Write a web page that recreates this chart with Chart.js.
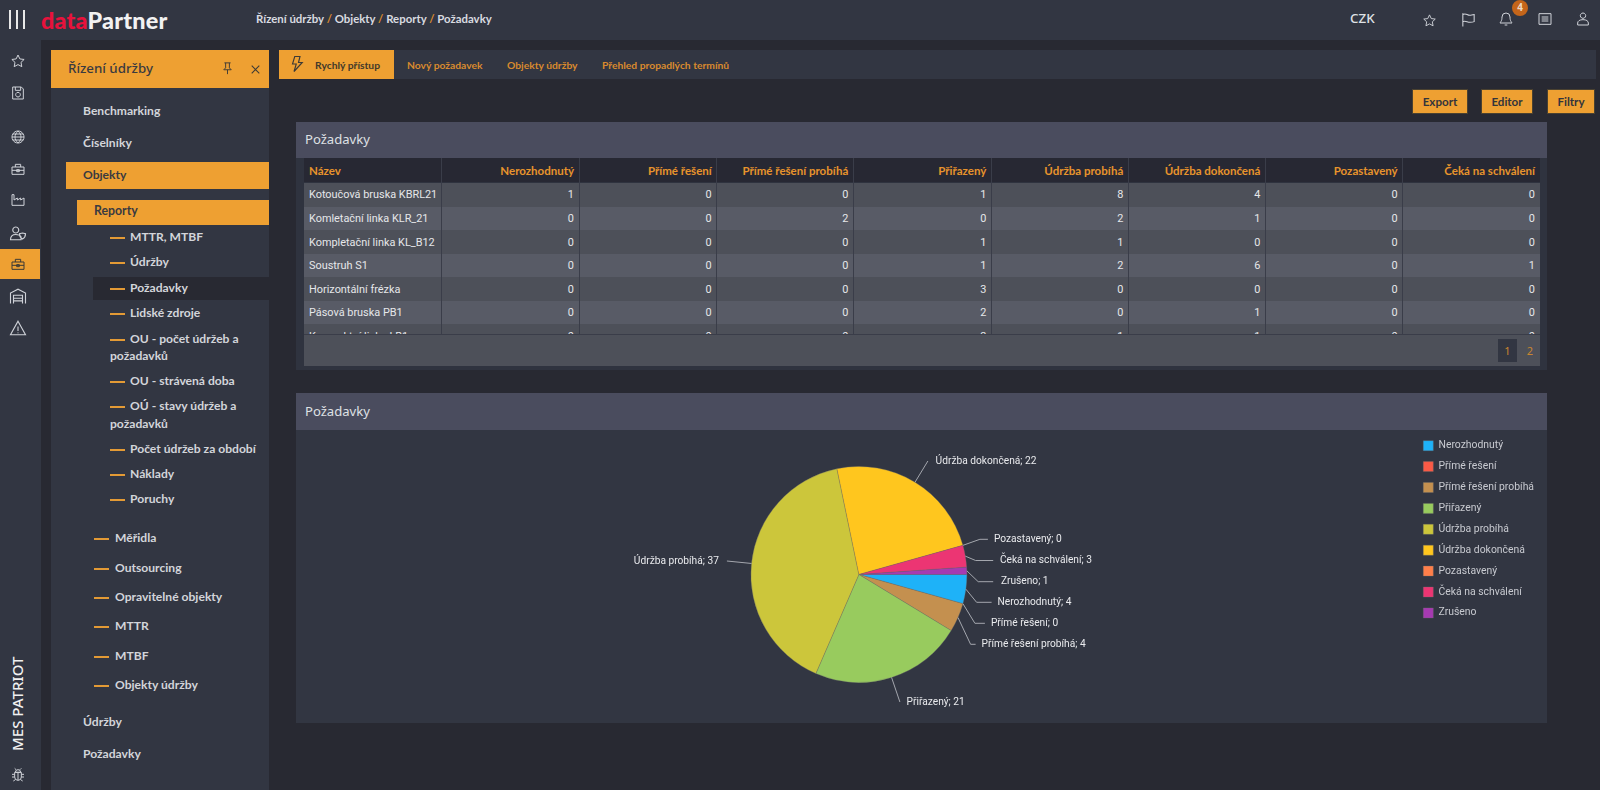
<!DOCTYPE html>
<html lang="cs"><head><meta charset="utf-8"><title>Požadavky</title>
<script src="https://cdn.jsdelivr.net/npm/chart.js@4"></script>
<style>
html,body{margin:0;padding:0;width:1600px;height:790px;overflow:hidden;background:#282932;font-family:"Noto Sans",sans-serif;color:#d5d7dc}
.a{position:absolute}
svg.a{z-index:5}
.t{position:absolute;white-space:nowrap;transform:translateY(-50%);line-height:1}
.side{font-family:Lato,sans-serif;font-size:12.1px;font-weight:700;color:#d3d5da;margin-top:-1px}
.dash{position:absolute;width:15px;height:2px;background:#e39a35}
.or{background:#eea032}
.btn{position:absolute;top:89px;height:25px;background:#eea032;border:1px solid #4a4130;box-sizing:border-box;color:#33343c;font:700 11.6px Lato,sans-serif;text-align:center;line-height:23px}
.tab{position:absolute;top:65px;transform:translateY(-50%);font:700 10.3px Lato,sans-serif;color:#d98a2e;white-space:nowrap}
.ph{position:absolute;left:296px;width:1251px;background:#4a4c5e}
.ph span{position:absolute;left:9px;top:50%;transform:translateY(-50%);font-size:13.1px;color:#dfe0e4;margin-top:-1px}
#grid{position:absolute;left:304px;top:158px;width:1236px;height:176px;overflow:hidden;font:10.9px Roboto,sans-serif}
.cell{position:absolute;box-sizing:border-box;padding:0 5px;white-space:nowrap;display:flex;align-items:center;color:#e6e7ea}
.hd{color:#e8942c;font:700 11.5px Lato,sans-serif;background:#272833}
.num{justify-content:flex-end}
.vline{position:absolute;top:158px;width:1px;height:176px;background:#3a3d49}
</style></head><body>
<div class="a" style="left:0;top:0;width:1600px;height:40px;background:#323642"></div>
<div class="a" style="left:0;top:0;width:41px;height:790px;background:#323642"></div>
<div class="a" style="left:51px;top:50px;width:218px;height:740px;background:#323642"></div>
<div class="a or" style="left:0;top:249px;width:40px;height:30px"></div>
<div id="icons"></div>
<div class="t" style="left:41px;top:20px;font:900 23.4px Lato,sans-serif;letter-spacing:.2px;transform:translateY(-50%)"><span style="color:#e8123c">data</span><span style="color:#f2f2f2">Partner</span></div>
<div class="t" style="left:256px;top:18px;font:700 11.4px Lato,sans-serif;color:#d9dbe0">Řízení údržby <span style="color:#d98a2e">/</span> Objekty <span style="color:#d98a2e">/</span> Reporty <span style="color:#d98a2e">/</span> Požadavky</div>
<div class="t" style="left:1350px;top:19px;font-size:13.4px;font-weight:500;color:#dfe1e5">CZK</div>
<div class="a" style="left:1512px;top:0;width:16px;height:16px;border-radius:50%;background:#c4651a;color:#ecd9c4;font-size:10px;font-weight:700;text-align:center;line-height:15px">4</div>

<div class="a or" style="left:51px;top:50px;width:218px;height:38px"></div>
<div class="t" style="left:68px;top:69px;font-size:13.3px;font-weight:500;color:#3a3a40">Řízení údržby</div>
<div class="a or" style="left:66px;top:162px;width:203px;height:27px"></div>
<div class="a or" style="left:77px;top:200px;width:192px;height:25px"></div>
<div class="a" style="left:93px;top:277px;width:176px;height:23px;background:#282932"></div>
<div id="menu"></div>

<div class="a" style="left:279px;top:50px;width:1317px;height:29px;background:#323642"></div>
<div class="a or" style="left:279px;top:50px;width:115px;height:29px"></div>
<div class="tab" style="left:315px;color:#43392a">Rychlý přístup</div>
<div class="tab" style="left:407px">Nový požadavek</div>
<div class="tab" style="left:507px">Objekty údržby</div>
<div class="tab" style="left:602px">Přehled propadlých termínů</div>
<div class="btn" style="left:1412px;width:56px">Export</div>
<div class="btn" style="left:1481px;width:52px">Editor</div>
<div class="btn" style="left:1547px;width:48px">Filtry</div>

<div class="a" style="left:296px;top:122px;width:1251px;height:248px;background:#2f333f"></div>
<div class="ph" style="top:122px;height:36px"><span>Požadavky</span></div>
<div id="grid"></div><div id="lines"></div>
<div class="a" style="left:304px;top:334px;width:1236px;height:32px;background:#4d5059;border-top:1px solid #3a3d49;box-sizing:border-box"></div>
<div class="a" style="left:1498px;top:339px;width:19px;height:23px;background:#323642;color:#c98630;font-size:11px;text-align:center;line-height:23px">1</div>
<div class="a" style="left:1525px;top:339px;width:10px;height:23px;color:#c98630;font-size:11px;text-align:center;line-height:23px">2</div>

<div class="a" style="left:296px;top:393px;width:1251px;height:330px;background:#323642"></div>
<div class="ph" style="top:393px;height:37px"><span>Požadavky</span></div>
<div class="a" style="left:296px;top:430px;width:1251px;height:289px"><canvas id="pie" width="1251" height="289"></canvas></div>

<script>
// ---- data ----
const statusLabels = ["Nerozhodnutý","Přímé řešení","Přímé řešení probíhá","Přiřazený","Údržba probíhá","Údržba dokončená","Pozastavený","Čeká na schválení","Zrušeno"];
const statusTotals = [4,0,4,21,37,22,0,3,1];
const statusColors = ["#1eb2f8","#fa5a46","#c4904f","#98cb5e","#ccc63b","#ffc61e","#ff7f4a","#ec3573","#a63ab2"];
const tableColumns = ["Název","Nerozhodnutý","Přímé řešení","Přímé řešení probíhá","Přiřazený","Údržba probíhá","Údržba dokončená","Pozastavený","Čeká na schválení"];
const machineNames = ["Kotoučová bruska KBRL21","Komletační linka KLR_21","Kompletační linka KL_B12","Soustruh S1","Horizontální frézka","Pásová bruska PB1","Kompaktní linka LB1"];
const rowKBRL = [1,0,0,1,8,4,0,0];
const rowKLR  = [0,0,2,0,2,1,0,0];
const rowKLB  = [0,0,0,1,1,0,0,0];
const rowS1   = [0,0,0,1,2,6,0,1];
const rowHF   = [0,0,0,3,0,0,0,0];
const rowPB1  = [0,0,0,2,0,1,0,0];
const rowLB1  = [0,0,0,2,1,1,0,0];
const tableRows = [rowKBRL,rowKLR,rowKLB,rowS1,rowHF,rowPB1,rowLB1];
const menuTop = [["Benchmarking",112],["Číselníky",143.5],["Objekty",176],["Údržby",723],["Požadavky",755]];
const menuReports = [["MTTR, MTBF",238],["Údržby",263],["Požadavky",288.5],["Lidské zdroje",314],["OU - počet údržeb a",339.5],["OU - strávená doba",382],["OÚ - stavy údržeb a",407],["Počet údržeb za období",450],["Náklady",475],["Poruchy",500]];
const menuObjects = [["Měřidla",539],["Outsourcing",568.5],["Opravitelné objekty",598],["MTTR",627],["MTBF",656.5],["Objekty údržby",686]];

// ---- callout layout, px relative to the pie centre: elbow x,y / line end x / text x ----
const calloutLayout = [
 [117.7,27.8,132.7,138.7],[116,48.8,126,132],[111.7,69.8,116.7,122.7],[41,127.5,41,47.7],
 [-132,-13.5,-132,-140],[69,-113.5,69,76.7],[121,-35.2,129,135],[116.7,-14,134.3,141],[119.3,7.2,134.3,142]
];

// ---- HTML chrome ----
const mk=(cls,css,txt)=>{const d=document.createElement('div');d.className=cls;d.style.cssText=css;if(txt!==undefined)d.textContent=txt;return d;};
const menu=document.getElementById('menu');
menuTop.forEach(([n,y])=>menu.append(mk('t side',`left:83px;top:${y}px;`+(n==='Objekty'?'color:#3a3a40':''),n)));
menu.append(mk('t side','left:94px;top:212px;color:#3a3a40;font-size:12.3px','Reporty'));
menuReports.forEach(([n,y])=>{menu.append(mk('dash',`left:110px;top:${y-1}px`));menu.append(mk('t side',`left:130px;top:${y}px`,n));});
menu.append(mk('t side','left:110px;top:357px','požadavků'));
menu.append(mk('t side','left:110px;top:424.7px','požadavků'));
menuObjects.forEach(([n,y])=>{menu.append(mk('dash',`left:94px;top:${y-1}px`));menu.append(mk('t side',`left:115px;top:${y}px`,n));});

const grid=document.getElementById('grid');
const colX=[304,441.7,579,716.7,853.3,991.3,1128.3,1265.3,1402.7,1540];
const rowY=[182.7,207.3,230,254,277.3,301,324,348];
tableColumns.forEach((c,i)=>grid.append(mk('cell hd'+(i?' num':''),`left:${colX[i]-304}px;top:0;width:${colX[i+1]-colX[i]}px;height:24px`,c)));
machineNames.forEach((m,r)=>{
  const top=rowY[r]-158,h=rowY[r+1]-rowY[r],bg=r%2?'#585b66':'#4d5059';
  grid.append(mk('cell',`left:0;top:${top}px;width:1236px;height:${h}px;background:${bg}`));
  grid.append(mk('cell',`left:0;top:${top}px;width:137px;height:${h}px`,m));
  tableRows[r].forEach((v,i)=>grid.append(mk('cell num',`left:${colX[i+1]-304}px;top:${top}px;width:${colX[i+2]-colX[i+1]}px;height:${h}px`,v)));
});
const lines=document.getElementById('lines');
colX.slice(1,-1).forEach(x=>lines.append(mk('vline',`left:${x-.5}px`)));

// ---- line icons ----
const IC={
 star:'M12 3l2.8 5.9 6.4.8-4.7 4.4 1.2 6.4L12 17.4l-5.7 3.1 1.2-6.4L2.8 9.7l6.4-.8z',
 save:'M4 3h13l3 3v15H4zM8 3v5h8V3M12 11a3.5 3.5 0 1 0 .01 0',
 globe:'M12 3a9 9 0 1 0 .01 0M3 12h18M12 3c-6 6-6 12 0 18M12 3c6 6 6 12 0 18M4.5 7.5h15M4.5 16.5h15',
 box:'M3 9h18v11H3zM8 9V5h8v4M3 14h18M10 13h4v3h-4z',
 fac:'M3 20V4h3v8l5-3v3l5-3v3l5-3v11z',
 user:'M9 4a4 4 0 1 0 .01 0M2 21c0-5 3-7 7-7s6 1 7 3v4zM18 12l4 1c0 4-2 6-4 7-2-1-4-3-4-7z',
 gar:'M2 22V8l10-5 10 5v14M6 22V11h12v11M6 15h12M6 18.500h12',
 warn:'M12 3l10 18H2zM12 10v6M12 18v1',
 bug:'M8 8a4 4 0 0 1 8 0v0zM7 8h10v7a5 5 0 0 1-10 0zM12 8v12M7 11H3M17 11h4M7 15H3M17 15h4M8 19l-3 2M16 19l3 2M9 4L7 2M15 4l2-2',
 flag:'M4 22V3M4 5c5-3 6 2 11 1 2 0 4-1 5-1v10c-2 1-4 1-6 1-4 0-6-3-10-1M20 5v10',
 bell:'M12 3a6 6 0 0 0-6 6c0 6-2 7-3 9h18c-1-2-3-3-3-9a6 6 0 0 0-6-6zM10 21h4',
 list:'M3 4h18v16H3zM7 9h10M7 12h10M7 15h10',
 per:'M12 3a4 4 0 1 0 .01 0M4 21v-3c0-3 3-5 8-5s8 2 8 5v3z',
 pin:'M7 3h10M9 3v8l-3 3h12l-3-3V3M12 14v7',
 x:'M5 5l14 14M19 5L5 19',
 bolt:'M9 2h7l-2 8h5L8 22l3-10H6z'
};
const ic=(n,cx,cy,s,col,w=1.5)=>`<svg class="a" style="left:${cx-s/2}px;top:${cy-s/2}px" width="${s}" height="${s}" viewBox="0 0 24 24" fill="none" stroke="${col}" stroke-width="${w}"><path d="${IC[n]}"/></svg>`;
const c1='#cfd2d8',cd='#3c3a36';
document.getElementById('icons').innerHTML=
 `<div class="a" style="left:9px;top:10px;width:2px;height:19px;background:#e8e8e8;box-shadow:7px 0 #e8e8e8,14px 0 #e8e8e8"></div>`+
 `<div class="a" style="left:8px;top:751px;width:0;height:0"><div style="position:absolute;left:0;top:0;transform-origin:0 0;transform:rotate(-90deg);white-space:nowrap;font-size:15px;font-weight:500;color:#f0f0f0;line-height:18px;width:95px">MES PATRIOT</div></div>`+
 ic('star',18,61,16,c1)+ic('save',18,93,16,c1)+ic('globe',18,137,16,c1)+ic('box',18,169,16,c1)+ic('fac',18,200,16,c1)+ic('user',18,233,18,c1)+ic('box',18,264,16,cd)+ic('gar',18,296,18,c1)+ic('warn',18,328,18,c1)+ic('bug',18,775,16,c1)+
 ic('star',1429,20,15,c1)+ic('flag',1468,19,17,c1)+ic('bell',1506,19,16,c1)+ic('list',1545,19,16,c1)+ic('per',1583,19,16,c1)+
 ic('pin',227,68,15,cd)+ic('x',255,69,13,cd,2)+ic('bolt',297,64,18,cd);

// ---- chart ----
const calloutPlugin={id:'callouts',afterDatasetsDraw(chart){
  const {ctx}=chart,meta=chart.getDatasetMeta(0);
  ctx.save();ctx.font='10.2px Roboto,sans-serif';ctx.textBaseline='middle';
  meta.data.forEach((arc,i)=>{
    const {x,y,startAngle,endAngle,outerRadius}=arc.getProps(['x','y','startAngle','endAngle','outerRadius'],true);
    const mid=(startAngle+endAngle)/2,[ex,ey,lx,tx]=calloutLayout[i];
    ctx.strokeStyle='#a4a7ae';ctx.lineWidth=1;ctx.beginPath();
    ctx.moveTo(x+Math.cos(mid)*outerRadius,y+Math.sin(mid)*outerRadius);
    ctx.lineTo(x+ex,y+ey);ctx.lineTo(x+lx,y+ey);ctx.stroke();
    ctx.fillStyle='#e9eaed';ctx.textAlign=tx<0?'right':'left';
    ctx.fillText(statusLabels[i]+'; '+statusTotals[i],x+tx,y+ey);
  });
  ctx.restore();
}};
new Chart(document.getElementById('pie'),{
  type:'pie',
  data:{labels:statusLabels,datasets:[{data:statusTotals,backgroundColor:statusColors,borderColor:'rgba(110,110,110,.55)',borderWidth:.6}]},
  options:{
    responsive:false,animation:false,rotation:90,radius:108,
    layout:{padding:{right:3,left:9}},
    plugins:{tooltip:{enabled:false},
      legend:{position:'right',align:'start',
        labels:{boxWidth:10,boxHeight:10,padding:10.5,color:'#c8cad0',font:{family:'Roboto,sans-serif',size:10.4}}}}
  },
  plugins:[calloutPlugin]
});
</script>
</body></html>
